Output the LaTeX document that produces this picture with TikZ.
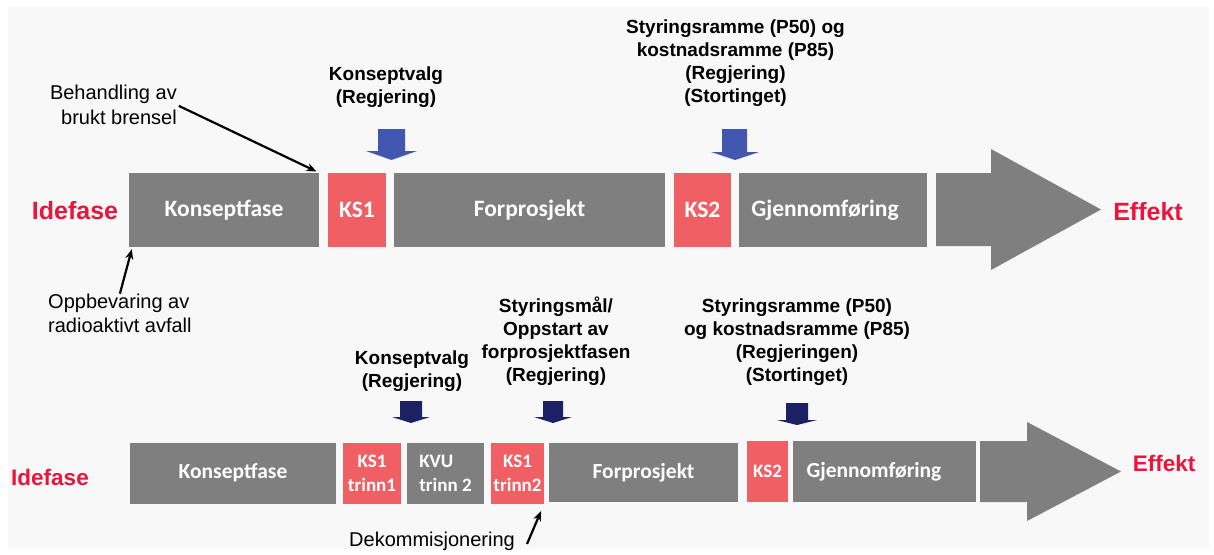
\documentclass[tikz,border=0pt]{standalone}
\usepackage{fontspec}
\setmainfont{Liberation Sans}
\newfontfamily\boxfont{Carlito}
\usetikzlibrary{arrows.meta,calc}
\definecolor{bgcol}{HTML}{F8F8F8}
\definecolor{phasegray}{HTML}{7F7F7F}
\definecolor{gatered}{HTML}{F05F64}
\definecolor{labelred}{HTML}{EB143C}
\definecolor{decblue}{HTML}{4257B0}
\definecolor{decnavy}{HTML}{1C2064}
\begin{document}
\begin{tikzpicture}[x=1pt,y=-1pt,
  phase/.style={fill=phasegray, text=white, inner sep=0pt, anchor=center,
    minimum height=74pt, font=\boxfont\bfseries\fontsize{23.5}{26}\selectfont},
  gate/.style={phase, fill=gatered},
  phaseb/.style={phase, minimum height=61pt, font=\boxfont\bfseries\fontsize{21.5}{24}\selectfont},
  gateb/.style={phaseb, fill=gatered},
  small/.style={align=center, font=\boxfont\bfseries\fontsize{19}{24}\selectfont},
  lbl/.style={inner sep=0pt, align=center, font=\bfseries\fontsize{19}{23}\selectfont},
  note/.style={inner sep=0pt, align=center, font=\fontsize{20}{24.5}\selectfont},
  side/.style={inner sep=0pt, text=labelred, font=\bfseries\fontsize{25}{30}\selectfont},
  sideb/.style={side, font=\bfseries\fontsize{22.5}{27}\selectfont},
  pointer/.style={-{Stealth[length=10pt,width=8pt]}, line width=2.2pt, black},
  bigarrow/.style={fill=phasegray}
]
\useasboundingbox (0,0) rectangle (1214,554);
\fill[white] (0,0) rectangle (1214,554);
\fill[bgcol] (8,7) rectangle (1209,549);

% ---------- upper process line ----------
\node[side] (ide1) at (75,211) {Idefase};
\node[phase, minimum width=190pt] (k1) at (224,210) {Konseptfase};
\node[gate, minimum width=58pt] (ks1) at (357,210) {KS1};
\node[phase, minimum width=271pt] (fp1) at (529.5,210) {Forprosjekt};
\node[gate, minimum width=57pt] (ks2) at (702.5,210) {KS2};
\node[phase, minimum width=188pt] (gj1) at (833,210) {Gjennomføring\hspace*{16pt}};
\fill[bigarrow] (936,173) -- (991,173) -- (991,149) -- (1101,209.5)
  -- (991,270) -- (991,246) -- (936,246) -- cycle;
\node[side] (eff1) at (1148,212) {Effekt};

% decision arrows and labels above the upper line
\fill[decblue] (378,129) -- (405,129) -- (405,151) -- (417,151) -- (391.5,160)
  -- (366,151) -- (378,151) -- cycle;
\fill[decblue] (722,129) -- (747,129) -- (747,152) -- (759,152) -- (735,160)
  -- (711,152) -- (722,152) -- cycle;
\node[lbl] (kv1) at (386,87.5) {Konseptvalg\\(Regjering)};
\node[lbl] (sr1) at (735.5,63.5) {Styringsramme (P50) og\\kostnadsramme (P85)\\(Regjering)\\(Stortinget)};

% side notes of the upper line
\node[note, align=right, anchor=east] (beh) at (177,105) {Behandling av\\brukt brensel};
\draw[pointer, shorten <=2pt, shorten >=3pt] (beh.east) -- (k1.north east);
\node[note, align=left, anchor=west] (opp) at (48,313.5) {Oppbevaring av\\radioaktivt avfall};
\draw[pointer] (opp.north) -- ($(k1.south west)+(3,2)$);

% ---------- lower process line ----------
\node[sideb] (ide2) at (50,477) {Idefase};
\node[phaseb, minimum width=206pt] (k2) at (233,473) {Konseptfase};
\node[gateb, small, minimum width=58pt] (ks1a) at (372,473) {KS1\\trinn1};
\node[phaseb, small, align=left, minimum width=77pt] (kvu) at (445.5,473.5) {KVU\\trinn 2};
\node[gateb, small, minimum width=53pt] (ks1b) at (517.5,473) {KS1\\trinn2};
\node[phaseb, minimum width=189pt, minimum height=59pt] (fp2) at (643.5,472.5) {Forprosjekt};
\node[gateb, small, minimum width=41pt] (ks2b) at (767.5,471.5) {KS2};
\node[phaseb, minimum width=183pt] (gj2) at (884.5,471.5) {Gjennomføring\hspace*{21pt}};
\fill[bigarrow] (980,441) -- (1027,441) -- (1027,422) -- (1121,471.5)
  -- (1027,521) -- (1027,502) -- (980,502) -- cycle;
\node[sideb] (eff2) at (1164,463) {Effekt};

% decision arrows and labels above the lower line
\fill[decnavy] (400,401) -- (422,401) -- (422,417) -- (430,417) -- (411,423)
  -- (392,417) -- (400,417) -- cycle;
\fill[decnavy] (543,401) -- (563,401) -- (563,417) -- (572,417) -- (553,423)
  -- (534,417) -- (543,417) -- cycle;
\fill[decnavy] (786,403) -- (808,403) -- (808,420) -- (817,420) -- (797,425)
  -- (777,420) -- (786,420) -- cycle;
\node[lbl] (kv2) at (412,371) {Konseptvalg\\(Regjering)};
\node[lbl] (sm) at (556,341.5) {Styringsmål/\\Oppstart av\\forprosjektfasen\\(Regjering)};
\node[lbl] (sr2) at (797,342) {Styringsramme (P50)\\og kostnadsramme (P85)\\(Regjeringen)\\(Stortinget)};

% side note of the lower line
\node[note] (dek) at (432,541) {Dekommisjonering};
\coordinate (dekstart) at (527,544);
\draw[pointer, shorten >=8pt] (dekstart) -- (ks1b.south east);
\end{tikzpicture}
\end{document}
